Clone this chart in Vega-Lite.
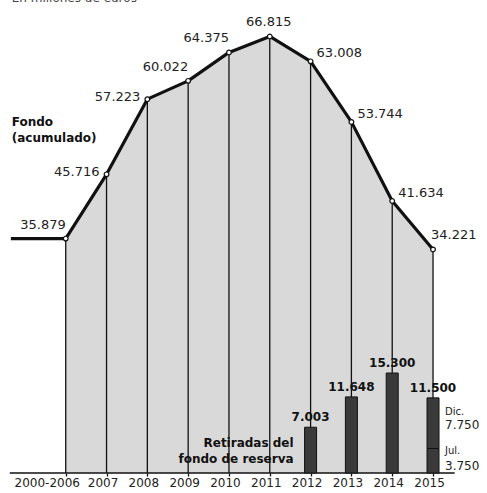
{
  "$schema": "https://vega.github.io/schema/vega-lite/v6.json",
  "width": 487,
  "height": 473,
  "autosize": {"type": "none"},
  "padding": {"left": 0, "top": 0, "right": 0, "bottom": 20},
  "background": "white",
  "config": {"view": {"stroke": null}, "font": "DejaVu Sans"},
  "datasets": {
    "fondo": [
      {"year": "2000-2006", "idx": 0, "fondo": 35.879},
      {"year": "2007", "idx": 1, "fondo": 45.716},
      {"year": "2008", "idx": 2, "fondo": 57.223},
      {"year": "2009", "idx": 3, "fondo": 60.022},
      {"year": "2010", "idx": 4, "fondo": 64.375},
      {"year": "2011", "idx": 5, "fondo": 66.815},
      {"year": "2012", "idx": 6, "fondo": 63.008},
      {"year": "2013", "idx": 7, "fondo": 53.744},
      {"year": "2014", "idx": 8, "fondo": 41.634},
      {"year": "2015", "idx": 9, "fondo": 34.221}
    ],
    "retiradas": [
      {"year": "2012", "idx": 6, "periodo": "Total", "amount": 7.003, "inicio": 0, "fin": 7.003},
      {"year": "2013", "idx": 7, "periodo": "Total", "amount": 11.648, "inicio": 0, "fin": 11.648},
      {"year": "2014", "idx": 8, "periodo": "Total", "amount": 15.3, "inicio": 0, "fin": 15.3},
      {"year": "2015", "idx": 9, "periodo": "Jul.", "amount": 3.75, "inicio": 0, "fin": 3.75},
      {"year": "2015", "idx": 9, "periodo": "Dic.", "amount": 7.75, "inicio": 3.75, "fin": 11.5}
    ]
  },
  "layer": [
    {
      "data": {"name": "fondo"},
      "mark": {"type": "area", "color": "#d9d9d9"},
      "encoding": {
        "x": {
          "field": "idx", "type": "quantitative",
          "scale": {"domain": [-1.488, 10.2], "nice": false, "zero": false},
          "axis": {
            "values": [0, 1, 2, 3, 4, 5, 6, 7, 8, 9],
            "labelExpr": "['2000-2006','2007','2008','2009','2010','2011','2012','2013','2014','2015'][datum.value]",
            "domain": false, "grid": false, "ticks": true, "tickSize": 3, "tickColor": "#111", "tickWidth": 1.3,
            "labelFont": "DejaVu Sans", "labelFontSize": 12, "labelColor": "#222", "labelPadding": 1,
            "labelOffset": {"condition": {"test": "datum.value == 0", "value": -19}, "value": -4},
            "labelFlush": false, "labelOverlap": false, "title": null
          }
        },
        "y": {"field": "fondo", "type": "quantitative", "scale": {"domain": [0, 72.4], "nice": false}, "axis": null}
      }
    },
    {
      "data": {"name": "fondo"},
      "mark": {"type": "rule", "color": "#111", "strokeWidth": 1.3},
      "encoding": {
        "x": {"field": "idx", "type": "quantitative", "scale": {"domain": [-1.488, 10.2], "nice": false, "zero": false}},
        "y": {"field": "fondo", "type": "quantitative", "scale": {"domain": [0, 72.4], "nice": false}},
        "y2": {"datum": 0}
      }
    },
    {
      "data": {"name": "fondo"},
      "transform": [{"filter": "datum.idx == 0"}],
      "mark": {"type": "rule", "color": "#111", "strokeWidth": 3.2},
      "encoding": {
        "x": {"datum": -1.344, "type": "quantitative", "scale": {"domain": [-1.488, 10.2], "nice": false, "zero": false}},
        "x2": {"datum": 0},
        "y": {"field": "fondo", "type": "quantitative", "scale": {"domain": [0, 72.4], "nice": false}}
      }
    },
    {
      "data": {"name": "fondo"},
      "mark": {"type": "rule", "color": "#111", "strokeWidth": 1.5},
      "transform": [{"filter": "datum.idx == 0"}],
      "encoding": {
        "x": {"datum": -1.37, "type": "quantitative", "scale": {"domain": [-1.488, 10.2], "nice": false, "zero": false}},
        "x2": {"datum": 9.53},
        "y": {"datum": 0, "type": "quantitative", "scale": {"domain": [0, 72.4], "nice": false}}
      }
    },
    {
      "data": {"name": "fondo"},
      "mark": {"type": "line", "color": "#111", "strokeWidth": 3.2, "strokeJoin": "round"},
      "encoding": {
        "x": {"field": "idx", "type": "quantitative", "scale": {"domain": [-1.488, 10.2], "nice": false, "zero": false}},
        "y": {"field": "fondo", "type": "quantitative", "scale": {"domain": [0, 72.4], "nice": false}}
      }
    },
    {
      "data": {"name": "fondo"},
      "mark": {"type": "point", "filled": true, "fill": "white", "stroke": "#111", "strokeWidth": 1.2, "size": 22, "opacity": 1},
      "encoding": {
        "x": {"field": "idx", "type": "quantitative", "scale": {"domain": [-1.488, 10.2], "nice": false, "zero": false}},
        "y": {"field": "fondo", "type": "quantitative", "scale": {"domain": [0, 72.4], "nice": false}}
      }
    },
    {
      "data": {"name": "retiradas"},
      "mark": {"type": "bar", "size": 12, "fill": "#3a3a3a", "stroke": "#111", "strokeWidth": 1},
      "encoding": {
        "x": {"field": "idx", "type": "quantitative", "scale": {"domain": [-1.488, 10.2], "nice": false, "zero": false}},
        "y": {"field": "inicio", "type": "quantitative", "scale": {"domain": [0, 72.4], "nice": false}},
        "y2": {"field": "fin"}
      }
    },
    {
      "data": {"name": "retiradas"},
      "transform": [{"aggregate": [{"op": "sum", "field": "amount", "as": "total"}], "groupby": ["idx"]}],
      "mark": {"type": "text", "fontSize": 12, "fontWeight": "bold", "color": "#111", "baseline": "middle", "align": "center", "dy": -10},
      "encoding": {
        "x": {"field": "idx", "type": "quantitative", "scale": {"domain": [-1.488, 10.2], "nice": false, "zero": false}},
        "y": {"field": "total", "type": "quantitative", "scale": {"domain": [0, 72.4], "nice": false}},
        "text": {"field": "total", "type": "quantitative", "format": ".3f"}
      }
    },
    {
      "data": {"name": "fondo"},
      "transform": [{"filter": "datum.idx == 0 || datum.idx == 3 || datum.idx == 4"}],
      "mark": {"type": "text", "fontSize": 13, "color": "#222", "align": "right", "baseline": "middle", "dx": 0, "dy": -14},
      "encoding": {
        "x": {"field": "idx", "type": "quantitative", "scale": {"domain": [-1.488, 10.2], "nice": false, "zero": false}},
        "y": {"field": "fondo", "type": "quantitative", "scale": {"domain": [0, 72.4], "nice": false}},
        "text": {"field": "fondo", "type": "quantitative", "format": ".3f"}
      }
    },
    {
      "data": {"name": "fondo"},
      "transform": [{"filter": "datum.idx == 1 || datum.idx == 2"}],
      "mark": {"type": "text", "fontSize": 13, "color": "#222", "align": "right", "baseline": "middle", "dx": -7, "dy": -2},
      "encoding": {
        "x": {"field": "idx", "type": "quantitative", "scale": {"domain": [-1.488, 10.2], "nice": false, "zero": false}},
        "y": {"field": "fondo", "type": "quantitative", "scale": {"domain": [0, 72.4], "nice": false}},
        "text": {"field": "fondo", "type": "quantitative", "format": ".3f"}
      }
    },
    {
      "data": {"name": "fondo"},
      "transform": [{"filter": "datum.idx == 5"}],
      "mark": {"type": "text", "fontSize": 13, "color": "#222", "align": "center", "baseline": "middle", "dx": -1, "dy": -14},
      "encoding": {
        "x": {"field": "idx", "type": "quantitative", "scale": {"domain": [-1.488, 10.2], "nice": false, "zero": false}},
        "y": {"field": "fondo", "type": "quantitative", "scale": {"domain": [0, 72.4], "nice": false}},
        "text": {"field": "fondo", "type": "quantitative", "format": ".3f"}
      }
    },
    {
      "data": {"name": "fondo"},
      "transform": [{"filter": "datum.idx >= 6 && datum.idx <= 8"}],
      "mark": {"type": "text", "fontSize": 13, "color": "#222", "align": "left", "baseline": "middle", "dx": 6, "dy": -8},
      "encoding": {
        "x": {"field": "idx", "type": "quantitative", "scale": {"domain": [-1.488, 10.2], "nice": false, "zero": false}},
        "y": {"field": "fondo", "type": "quantitative", "scale": {"domain": [0, 72.4], "nice": false}},
        "text": {"field": "fondo", "type": "quantitative", "format": ".3f"}
      }
    },
    {
      "data": {"name": "fondo"},
      "transform": [{"filter": "datum.idx == 9"}],
      "mark": {"type": "text", "fontSize": 13, "color": "#222", "align": "left", "baseline": "middle", "dx": -2, "dy": -14},
      "encoding": {
        "x": {"field": "idx", "type": "quantitative", "scale": {"domain": [-1.488, 10.2], "nice": false, "zero": false}},
        "y": {"field": "fondo", "type": "quantitative", "scale": {"domain": [0, 72.4], "nice": false}},
        "text": {"field": "fondo", "type": "quantitative", "format": ".3f"}
      }
    },
    {
      "data": {"name": "retiradas"},
      "transform": [{"filter": "datum.periodo == 'Dic.'"}],
      "mark": {"type": "text", "fontSize": 10, "color": "#222", "align": "left", "baseline": "middle", "dx": 12, "dy": 14},
      "encoding": {
        "x": {"field": "idx", "type": "quantitative", "scale": {"domain": [-1.488, 10.2], "nice": false, "zero": false}},
        "y": {"field": "fin", "type": "quantitative", "scale": {"domain": [0, 72.4], "nice": false}},
        "text": {"field": "periodo", "type": "nominal"}
      }
    },
    {
      "data": {"name": "retiradas"},
      "transform": [{"filter": "datum.periodo == 'Dic.'"}],
      "mark": {"type": "text", "fontSize": 12, "color": "#222", "align": "left", "baseline": "middle", "dx": 12, "dy": 27},
      "encoding": {
        "x": {"field": "idx", "type": "quantitative", "scale": {"domain": [-1.488, 10.2], "nice": false, "zero": false}},
        "y": {"field": "fin", "type": "quantitative", "scale": {"domain": [0, 72.4], "nice": false}},
        "text": {"field": "amount", "type": "quantitative", "format": ".3f"}
      }
    },
    {
      "data": {"name": "retiradas"},
      "transform": [{"filter": "datum.periodo == 'Jul.'"}],
      "mark": {"type": "text", "fontSize": 10, "color": "#222", "align": "left", "baseline": "middle", "dx": 12, "dy": 2},
      "encoding": {
        "x": {"field": "idx", "type": "quantitative", "scale": {"domain": [-1.488, 10.2], "nice": false, "zero": false}},
        "y": {"field": "fin", "type": "quantitative", "scale": {"domain": [0, 72.4], "nice": false}},
        "text": {"field": "periodo", "type": "nominal"}
      }
    },
    {
      "data": {"name": "retiradas"},
      "transform": [{"filter": "datum.periodo == 'Jul.'"}],
      "mark": {"type": "text", "fontSize": 12, "color": "#222", "align": "left", "baseline": "middle", "dx": 12, "dy": 17},
      "encoding": {
        "x": {"field": "idx", "type": "quantitative", "scale": {"domain": [-1.488, 10.2], "nice": false, "zero": false}},
        "y": {"field": "fin", "type": "quantitative", "scale": {"domain": [0, 72.4], "nice": false}},
        "text": {"field": "amount", "type": "quantitative", "format": ".3f"}
      }
    },
    {
      "data": {"name": "fondo"},
      "transform": [{"filter": "datum.idx == 0"}],
      "mark": {"type": "text", "fontSize": 12, "fontWeight": "bold", "color": "#111", "align": "left", "baseline": "middle", "lineHeight": 16, "dx": -54, "dy": -116.6, "text": ["Fondo", "(acumulado)"]},
      "encoding": {
        "x": {"field": "idx", "type": "quantitative", "scale": {"domain": [-1.488, 10.2], "nice": false, "zero": false}},
        "y": {"field": "fondo", "type": "quantitative", "scale": {"domain": [0, 72.4], "nice": false}}
      }
    },
    {
      "data": {"name": "fondo"},
      "transform": [{"filter": "datum.idx == 0"}],
      "mark": {"type": "text", "fontSize": 12, "color": "#444", "align": "left", "baseline": "alphabetic", "dx": -54, "dy": -236.6, "text": "En millones de euros"},
      "encoding": {
        "x": {"field": "idx", "type": "quantitative", "scale": {"domain": [-1.488, 10.2], "nice": false, "zero": false}},
        "y": {"field": "fondo", "type": "quantitative", "scale": {"domain": [0, 72.4], "nice": false}}
      }
    },
    {
      "data": {"name": "retiradas"},
      "transform": [{"filter": "datum.idx == 6"}],
      "mark": {"type": "text", "fontSize": 12, "fontWeight": "bold", "color": "#111", "align": "right", "baseline": "middle", "lineHeight": 16, "dx": -17, "dy": -30, "text": ["Retiradas del", "fondo de reserva"]},
      "encoding": {
        "x": {"field": "idx", "type": "quantitative", "scale": {"domain": [-1.488, 10.2], "nice": false, "zero": false}},
        "y": {"field": "inicio", "type": "quantitative", "scale": {"domain": [0, 72.4], "nice": false}}
      }
    }
  ]
}
